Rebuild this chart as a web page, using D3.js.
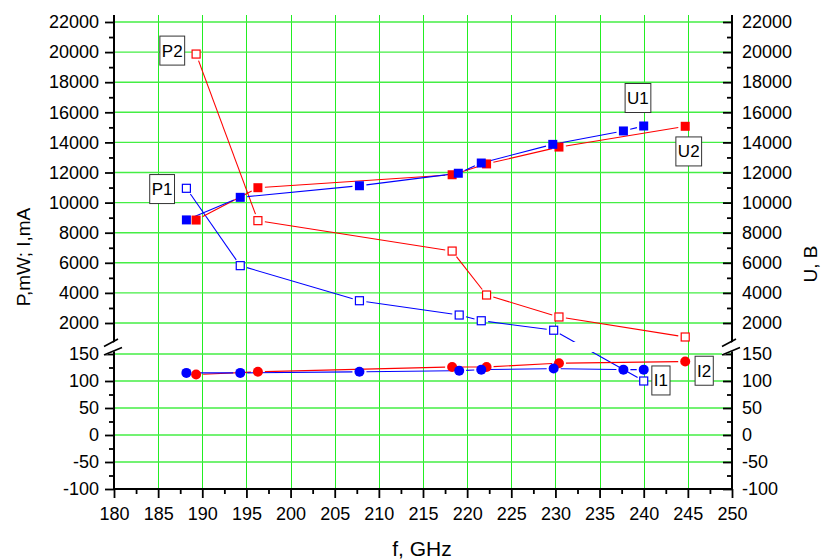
<!DOCTYPE html>
<html>
<head>
<meta charset="utf-8">
<script src="https://cdn.jsdelivr.net/npm/d3@7"></script>
<style>
  body { margin: 0; background: #fff; }
  svg text { font-family: "Liberation Sans", Arial, sans-serif; fill: #000; }
</style>
</head>
<body>
<svg width="826" height="559"></svg>
<script>
// ================================ DATA ================================
const freqU1 = [188.2, 194.3, 207.8, 219.0, 221.6, 229.7, 237.7, 240.0];
const U1     = [8850, 10350, 11120, 11950, 12630, 13870, 14760, 15090];
const freqU2 = [189.3, 196.3, 218.3, 222.2, 230.4, 244.7];
const U2     = [8840, 10990, 11850, 12570, 13690, 15070];
const freqP1 = [188.2, 194.3, 207.8, 219.1, 221.6, 229.8, 240.0];
const P1     = [10950, 5810, 3480, 2530, 2150, 1520, 100];
const freqP2 = [189.3, 196.3, 218.3, 222.2, 230.4, 244.7];
const P2     = [19870, 8800, 6780, 3860, 2400, 1070];
const freqI1 = [188.2, 194.3, 207.8, 219.1, 221.6, 229.8, 237.7, 240.0];
const I1     = [115, 115, 117, 119, 121, 123, 121, 121];
const freqI2 = [189.3, 196.3, 218.3, 222.2, 230.4, 244.7];
const I2     = [112, 117, 126, 126, 133, 136];

const xTicks = d3.range(180, 251, 5);
const highTicks = d3.range(2000, 22001, 2000);
const lowTicks = [-100, -50, 0, 50, 100, 150];

// series labels, anchored in data units
const labels = [
  {text: "P2", f: 186.6, v: 20100},
  {text: "P1", f: 185.45, v: 10900},
  {text: "U1", f: 239.35, v: 16950},
  {text: "U2", f: 245.1, v: 13400},
  {text: "I1", f: 241.95, v: 101},
  {text: "I2", f: 246.85, v: 119}
];
// ======================================================================

const svg = d3.select("svg");
const xs = d3.scaleLinear().domain([180, 250]).range([114, 732]);
const yHigh = d3.scaleLinear().domain([2000, 22000]).range([323, 22]);
const yLow = d3.scaleLinear().domain([-100, 150]).range([489, 354]);
const ys = v => v <= 150 ? yLow(v) : yHigh(v);
const plain = d => String(d);   // keep the ascii hyphen for negatives

const xLeft = xs(180), xRight = xs(250), yTop = 15, yBottom = yLow(-100);

// ================== GRID ==================
const grid = svg.append("g");
grid.selectAll(".vg").data(xTicks.filter(d => d > 180 && d < 250)).enter()
  .append("line")
  .attr("x1", d => Math.round(xs(d)) + 0.5).attr("x2", d => Math.round(xs(d)) + 0.5)
  .attr("y1", yTop).attr("y2", yBottom)
  .attr("stroke", "#22ee22").attr("stroke-width", 1);
grid.selectAll(".hg").data(highTicks.map(yHigh).concat(lowTicks.filter(d => d > -100).map(yLow))).enter()
  .append("line")
  .attr("x1", xLeft).attr("x2", xRight)
  .attr("y1", d => d).attr("y2", d => d)
  .attr("stroke", "#44ee44").attr("stroke-width", 1.4);

// ================== SERIES ==================
const clip = svg.append("clipPath").attr("id", "brk");
clip.append("rect").attr("x", 0).attr("y", 0).attr("width", 826).attr("height", 342);
clip.append("rect").attr("x", 0).attr("y", 352).attr("width", 826).attr("height", 207);

function drawLine(fr, vals, color) {
  const pts = fr.map((f, i) => [xs(f), ys(vals[i])]);
  const gap = 7;
  const g = svg.append("g").attr("clip-path", "url(#brk)");
  for (let i = 0; i < pts.length - 1; i++) {
    const [x0, y0] = pts[i], [x1, y1] = pts[i + 1];
    const L = Math.hypot(x1 - x0, y1 - y0);
    if (L <= 2 * gap) continue;
    const ux = (x1 - x0) / L, uy = (y1 - y0) / L;
    g.append("line")
      .attr("x1", x0 + ux * gap).attr("y1", y0 + uy * gap)
      .attr("x2", x1 - ux * gap).attr("y2", y1 - uy * gap)
      .attr("stroke", color).attr("stroke-width", 1.1);
  }
}

function drawMarks(fr, vals, color, kind) {
  const g = svg.append("g");
  const d = fr.map((f, i) => ({f: f, v: vals[i]}));
  if (kind === "circle") {
    g.selectAll("circle").data(d).enter().append("circle")
      .attr("cx", p => xs(p.f)).attr("cy", p => ys(p.v)).attr("r", 5)
      .attr("fill", color);
  } else {
    const s = kind === "filled" ? 9 : 8;
    g.selectAll("rect").data(d).enter().append("rect")
      .attr("x", p => xs(p.f) - s / 2).attr("y", p => ys(p.v) - s / 2)
      .attr("width", s).attr("height", s)
      .attr("fill", kind === "filled" ? color : "#fff")
      .attr("stroke", kind === "filled" ? "none" : color)
      .attr("stroke-width", 1.2);
  }
}

drawLine(freqP1, P1, "#0000ff");
drawLine(freqP2, P2, "#ff0000");
drawLine(freqU2, U2, "#ff0000");
drawLine(freqU1, U1, "#0000ff");
drawLine(freqI2, I2, "#ff0000");
drawLine(freqI1, I1, "#0000ff");

drawMarks(freqP1, P1, "#0000ff", "open");
drawMarks(freqP2, P2, "#ff0000", "open");
drawMarks(freqU2, U2, "#ff0000", "filled");
drawMarks(freqU1, U1, "#0000ff", "filled");
drawMarks(freqI2, I2, "#ff0000", "circle");
drawMarks(freqI1, I1, "#0000ff", "circle");

// ================== AXES ==================
function styleAxis(g) {
  g.select(".domain").remove();
  g.selectAll("line").attr("stroke", "#000").attr("stroke-width", 1.8);
  g.selectAll("text").style("font-size", "18px");
}
const minorHigh = d3.range(3000, 22000, 2000);
const minorLow = d3.range(-75, 150, 50);

// left
svg.append("g").attr("transform", "translate(" + xLeft + ",0)")
  .call(d3.axisLeft(yHigh).tickValues(highTicks).tickSize(9).tickPadding(6).tickFormat(plain)).call(styleAxis);
svg.append("g").attr("transform", "translate(" + xLeft + ",0)")
  .call(d3.axisLeft(yLow).tickValues(lowTicks).tickSize(9).tickPadding(6).tickFormat(plain)).call(styleAxis);
svg.append("g").attr("transform", "translate(" + xLeft + ",0)")
  .call(d3.axisLeft(yHigh).tickValues(minorHigh).tickSize(5).tickFormat("")).call(styleAxis);
svg.append("g").attr("transform", "translate(" + xLeft + ",0)")
  .call(d3.axisLeft(yLow).tickValues(minorLow).tickSize(5).tickFormat("")).call(styleAxis);

// right
svg.append("g").attr("transform", "translate(" + xRight + ",0)")
  .call(d3.axisRight(yHigh).tickValues(highTicks).tickSize(-9).tickPadding(10).tickFormat(plain)).call(styleAxis);
svg.append("g").attr("transform", "translate(" + xRight + ",0)")
  .call(d3.axisRight(yLow).tickValues(lowTicks).tickSize(-9).tickPadding(10).tickFormat(plain)).call(styleAxis);
svg.append("g").attr("transform", "translate(" + xRight + ",0)")
  .call(d3.axisRight(yHigh).tickValues(minorHigh).tickSize(-5).tickFormat("")).call(styleAxis);
svg.append("g").attr("transform", "translate(" + xRight + ",0)")
  .call(d3.axisRight(yLow).tickValues(minorLow).tickSize(-5).tickFormat("")).call(styleAxis);

// bottom
svg.append("g").attr("transform", "translate(0," + yBottom + ")")
  .call(d3.axisBottom(xs).tickValues(xTicks).tickSize(9).tickPadding(9).tickFormat(plain)).call(styleAxis);
svg.append("g").attr("transform", "translate(0," + yBottom + ")")
  .call(d3.axisBottom(xs).tickValues(d3.range(182.5, 250, 5)).tickSize(5).tickFormat("")).call(styleAxis);

// axis lines with breaks
[xLeft, xRight].forEach(function(x) {
  svg.append("line").attr("x1", x).attr("x2", x).attr("y1", yTop).attr("y2", yBottom)
    .attr("stroke", "#000").attr("stroke-width", 2);
  svg.append("polygon")
    .attr("points", [[x - 10, 347], [x + 8, 338.5], [x + 8, 348], [x - 10, 356]].join(" "))
    .attr("fill", "#fff");
  svg.append("line").attr("x1", x - 10).attr("y1", 346.5).attr("x2", x + 4).attr("y2", 339)
    .attr("stroke", "#000").attr("stroke-width", 1.6);
  svg.append("line").attr("x1", x - 10).attr("y1", 355).attr("x2", x + 8).attr("y2", 347.5)
    .attr("stroke", "#000").attr("stroke-width", 1.6);
});
svg.append("line").attr("x1", xLeft).attr("x2", xRight).attr("y1", yBottom).attr("y2", yBottom)
  .attr("stroke", "#000").attr("stroke-width", 2);

// titles
svg.append("text").attr("transform", "translate(30,257) rotate(-90)")
  .attr("text-anchor", "middle").style("font-size", "19px").text("P,mW; I,mA");
svg.append("text").attr("transform", "translate(817,264) rotate(-90)")
  .attr("text-anchor", "middle").style("font-size", "19px").text("U, B");
svg.append("text").attr("x", 422).attr("y", 556)
  .attr("text-anchor", "middle").style("font-size", "21px").text("f, GHz");

// ================== LABEL BOXES ==================
labels.forEach(function(l) {
  const cx = xs(l.f), cy = ys(l.v);
  const g = svg.append("g");
  const r = g.append("rect");
  const t = g.append("text").attr("x", cx).attr("y", cy + 6)
    .attr("text-anchor", "middle").style("font-size", "17px").text(l.text);
  const w = t.node().getBBox().width + 4;
  r.attr("x", cx - w / 2).attr("y", cy - 14.5).attr("width", w).attr("height", 29)
    .attr("fill", "#fff").attr("stroke", "#333").attr("stroke-width", 1);
});
</script>
</body>
</html>
